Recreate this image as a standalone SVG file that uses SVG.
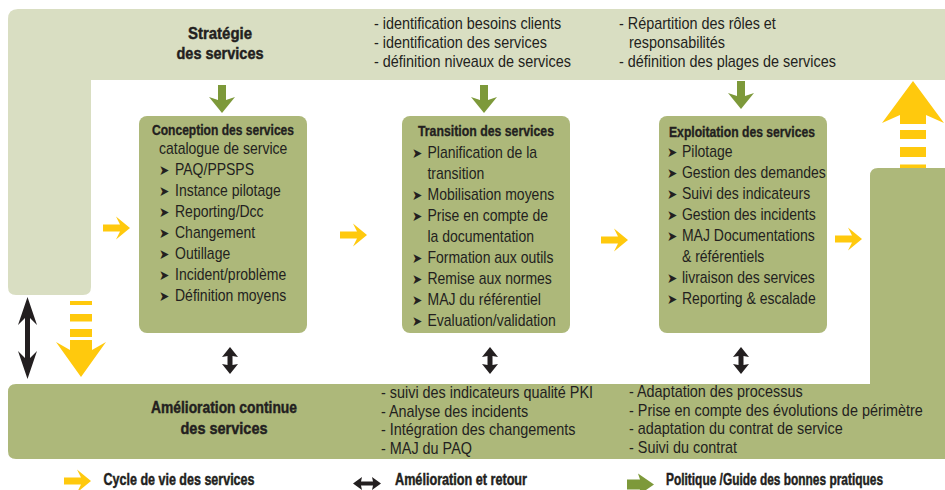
<svg xmlns="http://www.w3.org/2000/svg" width="945" height="490" viewBox="0 0 945 490">
<style>
.lband{fill:#d9dec2}
.dband{fill:#adb87a}
.box{fill:#adb87a}
.yel{fill:#ffc90d}
.grn{fill:#7d993a}
.blk{fill:#231f20}
text{fill:#231f20}
.t{font-family:"Liberation Sans",Arial,sans-serif;font-size:16px}
.h{font-family:"Liberation Sans",Arial,sans-serif;font-weight:bold;font-size:17px;stroke:#231f20;stroke-width:0.45}
.lg{font-family:"Liberation Sans",Arial,sans-serif;font-weight:bold;font-size:16px;stroke:#231f20;stroke-width:0.45}
.hb{font-family:"Liberation Sans",Arial,sans-serif;font-weight:bold;font-size:15px;stroke:#231f20;stroke-width:0.35}
.bul{font-family:"DejaVu Sans",sans-serif;font-size:14px}
</style>
<defs>
<path id="ya" class="yel" d="M-27,-3.5 H-10 L-14,-11.5 L0,0 L-14,11.5 L-10,3.5 H-27 Z"/>
<path id="ga" class="grn" d="M-4,-28 H4 V-13 L13,-16 L0,0 L-13,-16 L-4,-13 Z"/>
<path id="bd" class="blk" d="M0,-13.5 L8,-3.5 L2.5,-4.5 V4.5 L8,3.5 L0,13.5 L-8,3.5 L-2.5,4.5 V-4.5 L-8,-3.5 Z"/>
</defs>

<g id="strategie">
<path class="lband" d="M8,19 Q8,9 18,9 H945 V80 H91 V287 Q91,295 83,295 H16 Q8,295 8,287 Z"/>
<text class="h" x="220" y="39" text-anchor="middle" textLength="64" lengthAdjust="spacingAndGlyphs">Stratégie</text>
<text class="h" x="220" y="59" text-anchor="middle" textLength="87" lengthAdjust="spacingAndGlyphs">des services</text>
<g transform="translate(374,0) scale(0.9,1)">
<text class="t" x="0" y="29">- identification besoins clients</text>
<text class="t" x="0" y="48">- identification des services</text>
<text class="t" x="0" y="67">- définition niveaux de services</text>
</g>
<g transform="translate(619,0) scale(0.9,1)">
<text class="t" x="0" y="29">- Répartition des rôles et</text>
<text class="t" x="11.1" y="48">responsabilités</text>
<text class="t" x="0" y="67">- définition des plages de services</text>
</g>
</g>

<g id="amelioration">
<path class="dband" d="M878,168 H945 V459 H16 Q8,459 8,451 V392 Q8,384 16,384 H870 V176 Q870,168 878,168 Z"/>
<text class="h" x="224" y="413" text-anchor="middle" textLength="146" lengthAdjust="spacingAndGlyphs">Amélioration continue</text>
<text class="h" x="224" y="434" text-anchor="middle" textLength="87" lengthAdjust="spacingAndGlyphs">des services</text>
<g transform="translate(381,0) scale(0.9,1)">
<text class="t" x="0" y="398">- suivi des indicateurs qualité PKI</text>
<text class="t" x="0" y="417">- Analyse des incidents</text>
<text class="t" x="0" y="435">- Intégration des changements</text>
<text class="t" x="0" y="454">- MAJ du PAQ</text>
</g>
<g transform="translate(629,0) scale(0.9,1)">
<text class="t" x="0" y="397">- Adaptation des processus</text>
<text class="t" x="0" y="416">- Prise en compte des évolutions de périmètre</text>
<text class="t" x="0" y="434">- adaptation du contrat de service</text>
<text class="t" x="0" y="453">- Suivi du contrat</text>
</g>
</g>

<g id="conception">
<rect class="box" x="139" y="116" width="168" height="217" rx="8"/>
<text class="hb" x="223" y="135" text-anchor="middle" textLength="142" lengthAdjust="spacingAndGlyphs">Conception des services</text>
<g transform="translate(159,0) scale(0.875,1)">
<text class="t" x="0" y="154">catalogue de service</text>
<text class="bul" x="0" y="175">➤</text><text class="t" x="18.3" y="175">PAQ/PPSPS</text>
<text class="bul" x="0" y="196">➤</text><text class="t" x="18.3" y="196">Instance pilotage</text>
<text class="bul" x="0" y="217">➤</text><text class="t" x="18.3" y="217">Reporting/Dcc</text>
<text class="bul" x="0" y="238">➤</text><text class="t" x="18.3" y="238">Changement</text>
<text class="bul" x="0" y="259">➤</text><text class="t" x="18.3" y="259">Outillage</text>
<text class="bul" x="0" y="280">➤</text><text class="t" x="18.3" y="280">Incident/problème</text>
<text class="bul" x="0" y="301">➤</text><text class="t" x="18.3" y="301">Définition moyens</text>
</g>
</g>

<g id="transition">
<rect class="box" x="402" y="116" width="168" height="217" rx="8"/>
<text class="hb" x="486" y="136" text-anchor="middle" textLength="136" lengthAdjust="spacingAndGlyphs">Transition des services</text>
<g transform="translate(412,0) scale(0.875,1)">
<text class="bul" x="0" y="158">➤</text><text class="t" x="17.7" y="158">Planification de la</text>
<text class="t" x="17.7" y="179">transition</text>
<text class="bul" x="0" y="200">➤</text><text class="t" x="17.7" y="200">Mobilisation moyens</text>
<text class="bul" x="0" y="221">➤</text><text class="t" x="17.7" y="221">Prise en compte de</text>
<text class="t" x="17.7" y="242">la documentation</text>
<text class="bul" x="0" y="263">➤</text><text class="t" x="17.7" y="263">Formation aux outils</text>
<text class="bul" x="0" y="284">➤</text><text class="t" x="17.7" y="284">Remise aux normes</text>
<text class="bul" x="0" y="305">➤</text><text class="t" x="17.7" y="305">MAJ du référentiel</text>
<text class="bul" x="0" y="326">➤</text><text class="t" x="17.7" y="326">Evaluation/validation</text>
</g>
</g>

<g id="exploitation">
<rect class="box" x="659" y="116" width="168" height="217" rx="8"/>
<text class="hb" x="742" y="137" text-anchor="middle" textLength="146" lengthAdjust="spacingAndGlyphs">Exploitation des services</text>
<g transform="translate(667,0) scale(0.875,1)">
<text class="bul" x="0" y="157">➤</text><text class="t" x="17.1" y="157">Pilotage</text>
<text class="bul" x="0" y="178">➤</text><text class="t" x="17.1" y="178">Gestion des demandes</text>
<text class="bul" x="0" y="199">➤</text><text class="t" x="17.1" y="199">Suivi des indicateurs</text>
<text class="bul" x="0" y="220">➤</text><text class="t" x="17.1" y="220">Gestion des incidents</text>
<text class="bul" x="0" y="241">➤</text><text class="t" x="17.1" y="241">MAJ Documentations</text>
<text class="t" x="17.1" y="262">&amp; référentiels</text>
<text class="bul" x="0" y="283">➤</text><text class="t" x="17.1" y="283">livraison des services</text>
<text class="bul" x="0" y="304">➤</text><text class="t" x="17.1" y="304">Reporting &amp; escalade</text>
</g>
</g>

<g id="connectors">
<use href="#ga" x="222" y="113"/>
<use href="#ga" x="484" y="113"/>
<use href="#ga" x="741" y="109"/>
<use href="#ya" x="130" y="228"/>
<use href="#ya" x="367" y="235"/>
<use href="#ya" x="628" y="240"/>
<use href="#ya" x="862" y="239"/>
<use href="#bd" x="230" y="360.5"/>
<use href="#bd" x="490" y="360.5"/>
<use href="#bd" x="741" y="360.5"/>
<path class="blk" d="M27.5,297 L37,325 L30,318 V358 L37,351 L27.5,379 L18,351 L25,358 V318 L18,325 Z"/>
<g class="yel">
<rect x="70" y="301" width="22" height="4"/>
<rect x="70" y="314" width="22" height="7.5"/>
<rect x="70" y="329" width="22" height="8"/>
<path d="M70,340 H92 V350 L106,342 L81,377 L56,342 L70,350 Z"/>
<path d="M913,81 L944,123 L926,115 V124 H900 V115 L882,123 Z"/>
<rect x="900" y="130" width="26" height="9"/>
<rect x="900" y="147" width="26" height="10"/>
<rect x="900" y="164.5" width="26" height="3.5"/>
</g>
</g>

<g id="legend-cycle">
<use href="#ya" x="91" y="481"/>
<text class="lg" x="103.5" y="485" textLength="151" lengthAdjust="spacingAndGlyphs">Cycle de vie des services</text>
</g>
<g id="legend-amelioration">
<path class="blk" d="M353,483.5 L362,477 L361,481.5 H373 L372,477 L381,483.5 L372,490 L373,485.5 H361 L362,490 Z"/>
<text class="lg" x="395" y="485" textLength="132" lengthAdjust="spacingAndGlyphs">Amélioration et retour</text>
</g>
<g id="legend-politique">
<path class="grn" d="M627,479.5 H640 L638,473.5 L654,484.5 L638,495.5 L640,489.5 H627 Z"/>
<text class="lg" transform="translate(666,485) scale(0.745,1)" x="0" y="0">Politique /Guide des bonnes pratiques</text>
</g>
</svg>
